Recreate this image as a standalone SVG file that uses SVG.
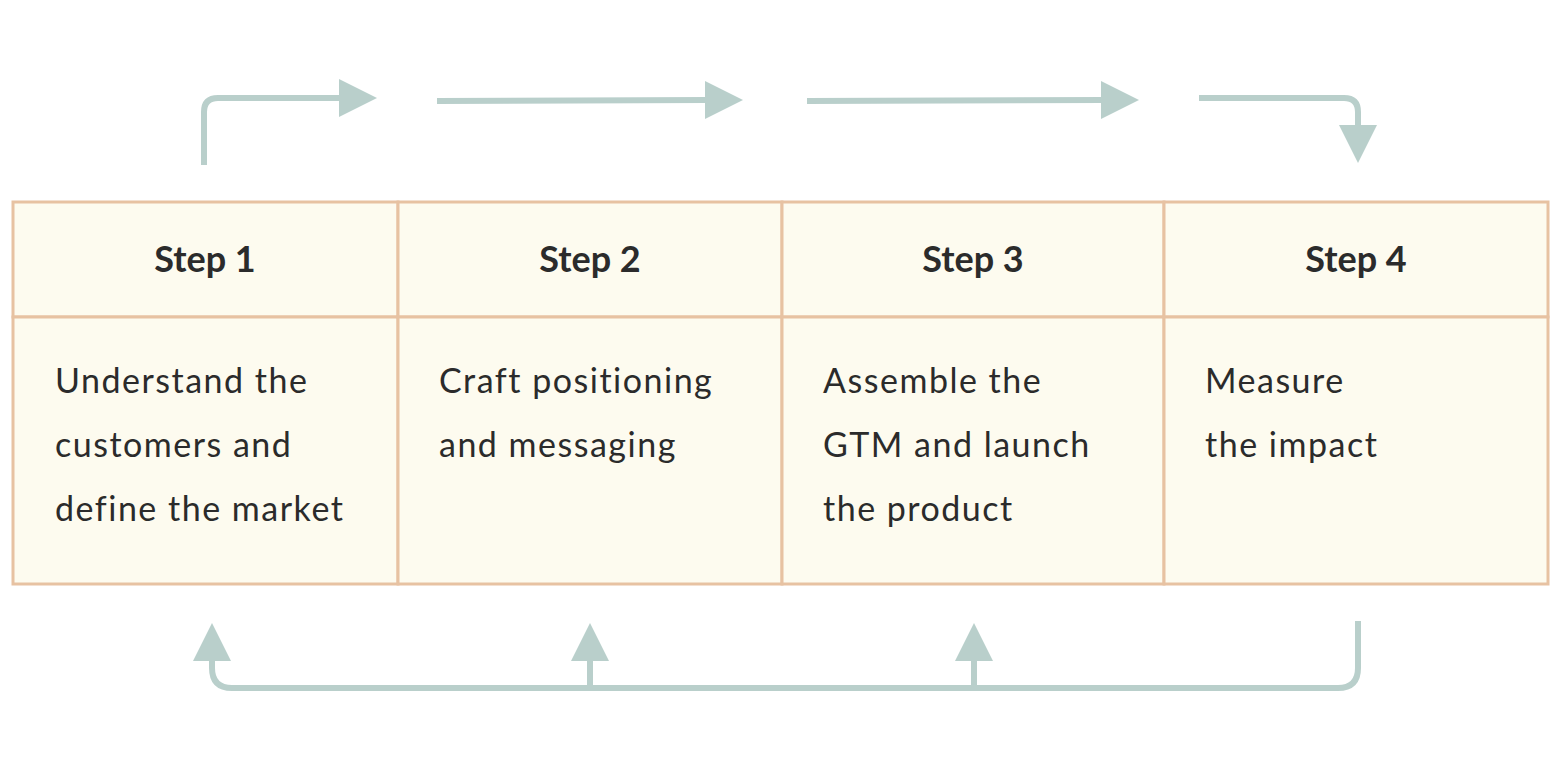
<svg xmlns="http://www.w3.org/2000/svg" width="1560" height="784" viewBox="0 0 1560 784">
<style>
.cell{fill:#fdfbef;stroke:#e7c2a2;stroke-width:3}
.hd{font-family:Lato,"Noto Sans",sans-serif;font-weight:bold;font-size:36px;fill:#2b2b2b;text-anchor:middle}
.bd{font-family:Lato,"Noto Sans",sans-serif;font-weight:400;font-size:34px;letter-spacing:1.5px;fill:#2b2b2b}
.ln{fill:none;stroke:#b9cfcb;stroke-width:6}
.ah{fill:#b9cfcb}
</style>
<rect width="1560" height="784" fill="#ffffff"/>
<g id="step1">
<rect class="cell" x="13" y="202" width="385" height="115"/>
<rect class="cell" x="13" y="317" width="385" height="267"/>
<text class="hd" x="205" y="272">Step 1</text>
<text class="bd" x="55" y="393">Understand the</text>
<text class="bd" x="55" y="457">customers and</text>
<text class="bd" x="55" y="521">define the market</text>
</g>
<g id="step2">
<rect class="cell" x="398" y="202" width="384" height="115"/>
<rect class="cell" x="398" y="317" width="384" height="267"/>
<text class="hd" x="590" y="272">Step 2</text>
<text class="bd" x="439" y="393">Craft positioning</text>
<text class="bd" x="439" y="457">and messaging</text>
</g>
<g id="step3">
<rect class="cell" x="782" y="202" width="382" height="115"/>
<rect class="cell" x="782" y="317" width="382" height="267"/>
<text class="hd" x="973" y="272">Step 3</text>
<text class="bd" x="823" y="393">Assemble the</text>
<text class="bd" x="823" y="457">GTM and launch</text>
<text class="bd" x="823" y="521">the product</text>
</g>
<g id="step4">
<rect class="cell" x="1164" y="202" width="384" height="115"/>
<rect class="cell" x="1164" y="317" width="384" height="267"/>
<text class="hd" x="1356" y="272">Step 4</text>
<text class="bd" x="1205" y="393">Measure</text>
<text class="bd" x="1205" y="457">the impact</text>
</g>
<g id="connectors">
<path class="ln" d="M204 165 V112 Q204 98 218 98 H342"/>
<polygon class="ah" points="339,79 377,98 339,117"/>
<path class="ln" d="M437 101 L708 100"/>
<polygon class="ah" points="705,81 743,100 705,119"/>
<path class="ln" d="M807 101 L1104 100"/>
<polygon class="ah" points="1101,81 1139,100 1101,119"/>
<path class="ln" d="M1199 98 H1344 Q1358 98 1358 112 V128"/>
<polygon class="ah" points="1339,125 1377,125 1358,163"/>
<path class="ln" d="M1358 621 V668 Q1358 688 1338 688 H232 Q212 688 212 668 V658"/>
<polygon class="ah" points="193,661 231,661 212,623"/>
<path class="ln" d="M590 688 V658"/>
<polygon class="ah" points="571,661 609,661 590,623"/>
<path class="ln" d="M974 688 V658"/>
<polygon class="ah" points="955,661 993,661 974,623"/>
</g>
</svg>
